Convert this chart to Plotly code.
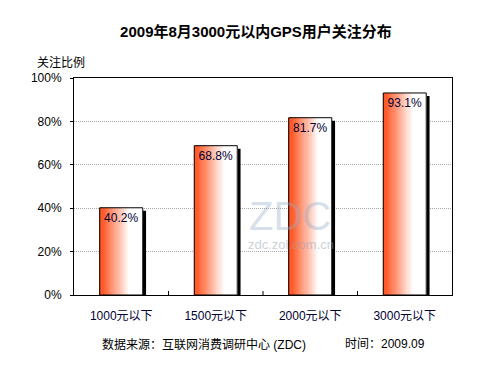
import plotly.graph_objects as go

categories = ["1000元以下", "1500元以下", "2000元以下", "3000元以下"]
values = [40.2, 68.8, 81.7, 93.1]
y_ticks = [0, 20, 40, 60, 80, 100]
y_tick_labels = ["0%", "20%", "40%", "60%", "80%", "100%"]

FONT = "Liberation Sans, Arial, Noto Sans CJK SC, sans-serif"
BAR_W = 0.455
N_SLICES = 40
SHADOW_DX = 0.035
SHADOW_DROP = 1.4

# page body has an 8px margin, so the figure is laid out in (ref - 8) pixels
OFF = 8
W, H = 500 - OFF, 375 - OFF
PL, PR, PT, PB = 74 - OFF, 452 - OFF, 78 - OFF, 295 - OFF
PW, PH = PR - PL, PB - PT


def px(xr):
    return (xr - OFF - PL) / PW


def py(yr):
    return (PB - (yr - OFF)) / PH


def grad_color(f):
    c0 = (255, 90, 40)
    c1 = (255, 255, 255)
    if f < 0.08:
        t = 0.0
    else:
        t = min(1.0, (f - 0.08) / 0.62)
    r, g, b = [round(a + (bb - a) * t) for a, bb in zip(c0, c1)]
    return f"rgb({r},{g},{b})"


fig = go.Figure()

# shadow
fig.add_trace(go.Bar(
    x=categories, y=[v - SHADOW_DROP for v in values],
    width=BAR_W, offset=-BAR_W / 2 + SHADOW_DX,
    marker=dict(color="black", line=dict(width=0)),
    hoverinfo="skip", showlegend=False,
))

# gradient slices
sw = BAR_W / N_SLICES
for i in range(N_SLICES):
    fig.add_trace(go.Bar(
        x=categories, y=values,
        width=sw * 1.05, offset=-BAR_W / 2 + i * sw,
        marker=dict(color=grad_color((i + 0.5) / N_SLICES), line=dict(width=0)),
        hoverinfo="skip", showlegend=False,
    ))

# outline + labels
fig.add_trace(go.Bar(
    x=categories, y=values,
    width=BAR_W, offset=-BAR_W / 2,
    marker=dict(color="rgba(0,0,0,0)", line=dict(color="black", width=1)),
    text=[f"{v:.1f}%" for v in values],
    textposition="inside", insidetextanchor="end",
    textangle=0,
    textfont=dict(family=FONT, size=12, color="#000033"),
    cliponaxis=False, showlegend=False,
))

fig.update_layout(
    width=W, height=H,
    margin=dict(l=PL, r=W - PR, t=PT, b=H - PB, autoexpand=False),
    paper_bgcolor="white", plot_bgcolor="white",
    barmode="overlay",
    font=dict(family=FONT, size=12, color="black"),
    title=dict(text="<b>2009年8月3000元以内GPS用户关注分布</b>",
               x=(256 - OFF) / W, xanchor="center", y=1 - (32 - OFF) / H, yanchor="middle",
               font=dict(family=FONT, size=15, color="black")),
    xaxis=dict(
        showgrid=False, showline=True, linecolor="black", linewidth=1, mirror=True,
        ticks="", tickfont=dict(family=FONT, size=12, color="#000033"),
        ticklabelstandoff=10, automargin=False,
    ),
    yaxis=dict(
        range=[0, 100], tickvals=y_ticks, ticktext=y_tick_labels,
        showgrid=True, gridcolor="#a8a8a8", griddash="1px,1px", gridwidth=1,
        showline=True, linecolor="black", linewidth=1, mirror=True,
        ticks="outside", ticklen=3, tickcolor="black",
        tickfont=dict(family=FONT, size=12, color="black"),
        ticklabelstandoff=6, automargin=False,
        zeroline=False,
    ),
    annotations=[
        dict(text="关注比例", xref="paper", yref="paper", x=px(35), y=py(62),
             xanchor="left", yanchor="middle", showarrow=False,
             font=dict(family=FONT, size=12, color="black")),
        dict(text="ZDC", xref="paper", yref="paper", x=px(290), y=py(216),
             xanchor="center", yanchor="middle", showarrow=False,
             font=dict(family="Liberation Sans", size=40, color="rgba(150,170,200,0.4)")),
        dict(text="zdc.zol.com.cn", xref="paper", yref="paper", x=px(291), y=py(244),
             xanchor="center", yanchor="middle", showarrow=False,
             font=dict(family=FONT, size=13, color="rgba(150,160,180,0.5)")),
        dict(text="数据来源：互联网消费调研中心 (ZDC)", xref="paper", yref="paper",
             x=px(100), y=py(344), xanchor="left", yanchor="middle",
             showarrow=False, font=dict(family=FONT, size=12, color="black")),
        dict(text="时间：2009.09", xref="paper", yref="paper",
             x=px(343), y=py(344), xanchor="left", yanchor="middle",
             showarrow=False, font=dict(family=FONT, size=12, color="black")),
    ],
)

# category boundary ticks at bottom (inside)
for k in range(1, len(categories)):
    fig.add_shape(type="line", xref="x", yref="paper",
                  x0=k - 0.5, x1=k - 0.5, y0=0, y1=4 / PH,
                  line=dict(color="black", width=1))

fig.write_html("out.html")
